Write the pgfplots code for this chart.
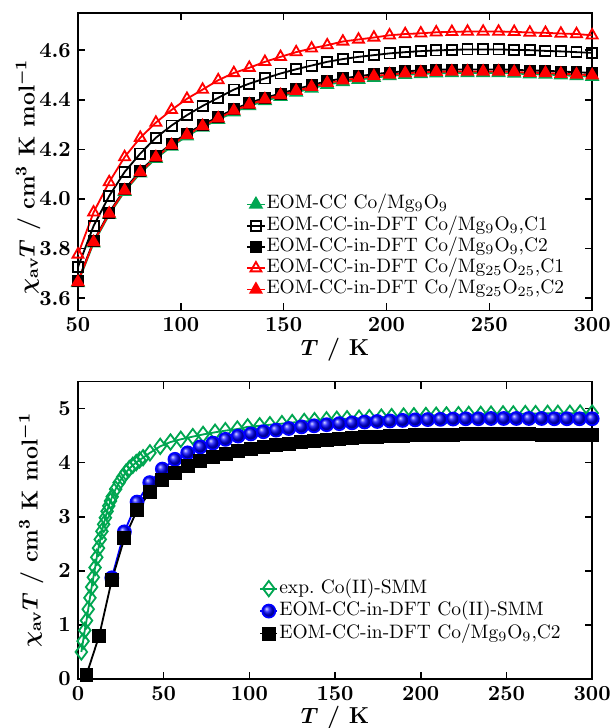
\documentclass[border=0pt]{standalone}
\usepackage{pgfplots}
\pgfplotsset{compat=1.18}
\definecolor{egreen}{RGB}{0,166,81}

\pgfplotsset{
  chiplot/.style={
    scale only axis, width=254pt, height=147pt,
    axis line style={line width=0.9pt},
    every tick/.style={black, line width=0.8pt},
    major tick length=3.5pt,
    tick align=inside,
    ticklabel style={font=\fontsize{10.6}{13}\selectfont\bfseries\boldmath},
    /pgf/number format/assume math mode=true,
    label style={font=\fontsize{11.4}{13.5}\selectfont\bfseries\boldmath},
    ylabel={$\chi_{\mathrm{av}}T$ / cm$^{3}$ K mol$^{-1}$},
    xlabel={$T$ / K},
    xlabel style={at={(axis description cs:0.5,-0.13)}, anchor=center},
    legend cell align=left,
    legend style={draw=none, fill=none, font=\fontsize{9.6}{11.5}\selectfont, anchor=south west},
    legend image code/.code={\draw[mark repeat=2,mark phase=2] plot coordinates {(0cm,0cm) (0.15cm,0cm) (0.3cm,0cm)};},
    every axis plot/.append style={line width=0.9pt},
  }
}

\begin{document}
\begin{tikzpicture}
% upper panel
\begin{axis}[chiplot, at={(0,0)}, anchor=south west,
    xmin=50, xmax=300, ymin=3.55, ymax=4.75,
    xtick={50,100,150,200,250,300},
    ytick={3.6,3.8,4.0,4.2,4.4,4.6},
    y tick label style={/pgf/number format/.cd, fixed, fixed zerofill, precision=1, /tikz/.cd},
    ylabel style={at={(axis description cs:-0.097,0.45)}, anchor=center},
    legend style={at={(0.315,0.02)}, nodes={inner sep=0.5pt, text height=6.9pt, text depth=2.6pt}},
]
\addplot[egreen, mark=triangle*, mark size=3.3pt, mark options={solid, fill=egreen}] coordinates {
(50.0,3.662)(57.6,3.822)(65.2,3.937)(72.7,4.030)(80.3,4.104)(87.9,4.163)(95.5,4.212)
(103.0,4.253)(110.6,4.289)(118.2,4.320)(125.8,4.350)(133.3,4.375)(140.9,4.396)(148.5,4.413)
(156.1,4.430)(163.6,4.446)(171.2,4.461)(178.8,4.472)(186.4,4.481)(193.9,4.489)(201.5,4.496)
(209.1,4.501)(216.7,4.504)(224.2,4.507)(231.8,4.508)(239.4,4.508)(247.0,4.508)(254.5,4.508)
(262.1,4.506)(269.7,4.503)(277.3,4.502)(284.8,4.499)(292.4,4.496)(300.0,4.493)};
\addplot[black, mark=square, mark size=2.5pt, mark options={solid, fill=white}] coordinates {
(50.0,3.725)(57.6,3.891)(65.2,4.012)(72.7,4.109)(80.3,4.183)(87.9,4.247)(95.5,4.296)
(103.0,4.338)(110.6,4.375)(118.2,4.408)(125.8,4.441)(133.3,4.465)(140.9,4.486)(148.5,4.506)
(156.1,4.523)(163.6,4.538)(171.2,4.553)(178.8,4.564)(186.4,4.573)(193.9,4.580)(201.5,4.587)
(209.1,4.592)(216.7,4.596)(224.2,4.599)(231.8,4.601)(239.4,4.603)(247.0,4.603)(254.5,4.603)
(262.1,4.601)(269.7,4.600)(277.3,4.597)(284.8,4.595)(292.4,4.592)(300.0,4.589)};
\addplot[black, mark=square*, mark size=2.5pt, mark options={solid}] coordinates {
(50.0,3.669)(57.6,3.830)(65.2,3.945)(72.7,4.039)(80.3,4.113)(87.9,4.173)(95.5,4.223)
(103.0,4.264)(110.6,4.300)(118.2,4.331)(125.8,4.362)(133.3,4.387)(140.9,4.408)(148.5,4.425)
(156.1,4.443)(163.6,4.459)(171.2,4.475)(178.8,4.486)(186.4,4.495)(193.9,4.503)(201.5,4.510)
(209.1,4.515)(216.7,4.518)(224.2,4.521)(231.8,4.522)(239.4,4.522)(247.0,4.522)(254.5,4.522)
(262.1,4.521)(269.7,4.518)(277.3,4.517)(284.8,4.514)(292.4,4.511)(300.0,4.508)};
\addplot[red, mark=triangle, mark size=3.1pt, mark options={solid, fill=white}] coordinates {
(50.0,3.776)(57.6,3.946)(65.2,4.068)(72.7,4.169)(80.3,4.247)(87.9,4.308)(95.5,4.359)
(103.0,4.404)(110.6,4.441)(118.2,4.479)(125.8,4.508)(133.3,4.529)(140.9,4.553)(148.5,4.573)
(156.1,4.592)(163.6,4.607)(171.2,4.620)(178.8,4.635)(186.4,4.643)(193.9,4.651)(201.5,4.660)
(209.1,4.665)(216.7,4.668)(224.2,4.672)(231.8,4.674)(239.4,4.675)(247.0,4.675)(254.5,4.675)
(262.1,4.674)(269.7,4.671)(277.3,4.670)(284.8,4.667)(292.4,4.665)(300.0,4.660)};
\addplot[red, mark=triangle*, mark size=3.1pt, mark options={solid, fill=red}] coordinates {
(50.0,3.665)(57.6,3.826)(65.2,3.941)(72.7,4.034)(80.3,4.108)(87.9,4.168)(95.5,4.217)
(103.0,4.258)(110.6,4.294)(118.2,4.325)(125.8,4.356)(133.3,4.381)(140.9,4.402)(148.5,4.419)
(156.1,4.436)(163.6,4.452)(171.2,4.468)(178.8,4.478)(186.4,4.487)(193.9,4.495)(201.5,4.502)
(209.1,4.507)(216.7,4.510)(224.2,4.513)(231.8,4.514)(239.4,4.514)(247.0,4.514)(254.5,4.514)
(262.1,4.512)(269.7,4.509)(277.3,4.508)(284.8,4.505)(292.4,4.502)(300.0,4.499)};
\legend{{EOM-CC Co/Mg$_9$O$_9$},
  {EOM-CC-in-DFT Co/Mg$_9$O$_9$,C1},
  {EOM-CC-in-DFT Co/Mg$_9$O$_9$,C2},
  {EOM-CC-in-DFT Co/Mg$_{25}$O$_{25}$,C1},
  {EOM-CC-in-DFT Co/Mg$_{25}$O$_{25}$,C2}}
\end{axis}

% lower panel
\begin{axis}[chiplot, at={(0,-182pt)}, anchor=south west,
    xmin=0, xmax=300, ymin=0, ymax=5.5,
    xtick={0,50,100,150,200,250,300},
    ytick={0,1,2,3,4,5},
    ylabel style={at={(axis description cs:-0.091,0.5)}, anchor=center},
    legend style={at={(0.34,0.10)}, nodes={inner sep=0.5pt, text height=7.3pt, text depth=2.8pt}},
]
\addplot[egreen, mark=diamond, mark size=3.8pt, mark options={solid}] coordinates {
(2,0.50)(3,0.70)(4,0.90)(5,1.08)(6,1.29)(7,1.50)(8,1.70)(9,1.88)(10,2.06)(11,2.25)
(12,2.42)(13,2.58)(14,2.73)(15,2.86)(16,2.98)(17,3.10)(18,3.20)(19,3.29)(20,3.37)
(22,3.51)(24,3.63)(26,3.73)(28,3.82)(30,3.89)(32,3.95)(34,4.00)(36,4.05)(38,4.09)
(42,4.18)(48,4.30)(54,4.38)(60,4.43)(67,4.48)(73,4.52)(80,4.56)(86,4.59)(93,4.62)
(99,4.66)(106,4.68)(112,4.70)(119,4.72)(125,4.74)(132,4.76)(138,4.775)(145,4.79)
(151,4.80)(157,4.81)(164,4.82)(170,4.83)(177,4.84)(183,4.85)(190,4.86)(196,4.865)
(203,4.87)(209,4.875)(215,4.88)(222,4.885)(228,4.89)(235,4.89)(241,4.895)(248,4.90)
(254,4.90)(261,4.905)(267,4.905)(274,4.91)(280,4.91)(287,4.91)(293,4.915)(300,4.915)};
\addplot[blue, mark=ball, mark size=3.2pt, mark options={ball color=blue}] coordinates {
(19.75,1.87)(27.1,2.72)(34.5,3.27)(41.9,3.63)(49.25,3.88)(56.6,4.06)(64.0,4.18)
(71.4,4.29)(78.75,4.36)(86.1,4.43)(93.5,4.49)(100.9,4.53)(108.25,4.57)(115.6,4.60)
(123.0,4.63)(130.4,4.66)(137.75,4.68)(145.1,4.70)(152.5,4.72)(159.9,4.735)(167.25,4.75)
(174.6,4.76)(182.0,4.77)(189.4,4.78)(196.75,4.79)(204.1,4.795)(211.5,4.80)(218.9,4.805)
(226.25,4.81)(233.6,4.81)(241.0,4.815)(248.4,4.815)(255.75,4.815)(263.1,4.815)(270.5,4.815)
(277.9,4.81)(285.25,4.81)(292.6,4.81)(300.0,4.81)};
\addplot[black, mark=square*, mark size=3pt, mark options={solid}] coordinates {
(5.0,0.08)(12.4,0.80)(19.75,1.83)(27.1,2.60)(34.5,3.12)(41.9,3.45)(49.25,3.67)
(56.6,3.81)(64.0,3.93)(71.4,4.03)(78.75,4.10)(86.1,4.16)(93.5,4.21)(100.9,4.25)
(108.25,4.29)(115.6,4.32)(123.0,4.35)(130.4,4.38)(137.75,4.40)(145.1,4.42)(152.5,4.435)
(159.9,4.45)(167.25,4.465)(174.6,4.48)(182.0,4.49)(189.4,4.497)(196.75,4.505)(204.1,4.51)
(211.5,4.515)(218.9,4.518)(226.25,4.52)(233.6,4.52)(241.0,4.52)(248.4,4.52)(255.75,4.52)
(263.1,4.52)(270.5,4.518)(277.9,4.516)(285.25,4.513)(292.6,4.51)(300.0,4.508)};
\legend{{exp.\ Co(II)-SMM},
  {EOM-CC-in-DFT Co(II)-SMM},
  {EOM-CC-in-DFT Co/Mg$_9$O$_9$,C2}}
\end{axis}

\pgfresetboundingbox
\path[use as bounding box] (-38.5pt,-206.2pt) rectangle (262.5pt,153.4pt);
\end{tikzpicture}
\end{document}
